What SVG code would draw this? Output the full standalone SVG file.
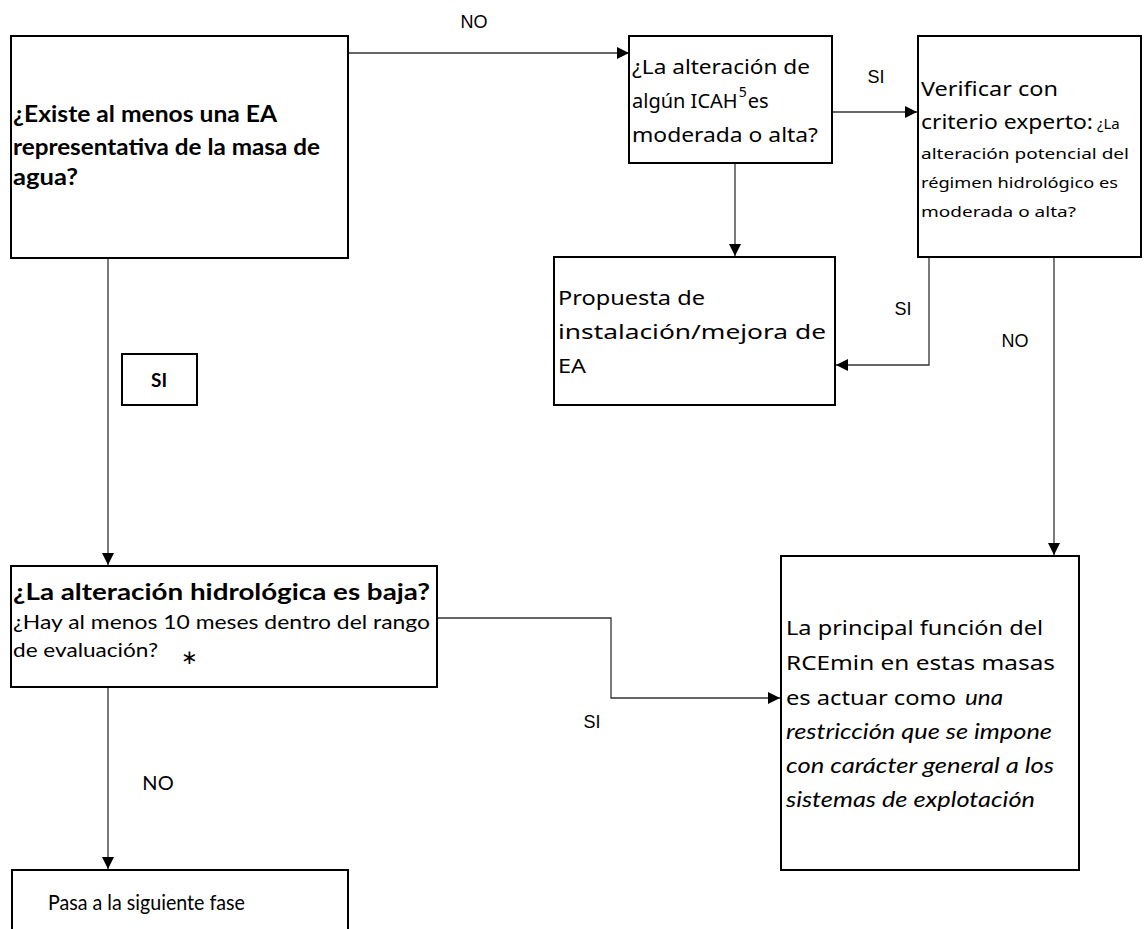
<svg xmlns="http://www.w3.org/2000/svg" width="1144" height="929" viewBox="0 0 1144 929">
<style>
.box{fill:#fff;stroke:#000;stroke-width:2}
.con{fill:none;stroke:#333;stroke-width:1.3}
.cb{font-family:Lato,"Liberation Sans",sans-serif;font-weight:bold;fill:#000}
.cr{font-family:Lato,"Liberation Sans",sans-serif;fill:#000}
.ap{font-family:"Noto Sans","Open Sans",sans-serif;fill:#000}
.lbl{font-family:"Liberation Sans",Arial,sans-serif;font-size:18px;fill:#000;text-anchor:middle}
</style>
<defs>
<marker id="arr" viewBox="0 0 10 10" refX="10" refY="5" markerWidth="12" markerHeight="12" markerUnits="userSpaceOnUse" orient="auto">
<path d="M0,0 L10,5 L0,10 z" fill="#000"/>
</marker>
</defs>
<rect width="1144" height="929" fill="#fff"/>
<g id="connectors">
<path class="con" d="M348,53 H629" marker-end="url(#arr)"/>
<path class="con" d="M735,163 V256" marker-end="url(#arr)"/>
<path class="con" d="M832,112 H917" marker-end="url(#arr)"/>
<path class="con" d="M929,257 V365 H836" marker-end="url(#arr)"/>
<path class="con" d="M1054,257 V555" marker-end="url(#arr)"/>
<path class="con" d="M108,258 V565" marker-end="url(#arr)"/>
<path class="con" d="M437,618 H611 V698 H780" marker-end="url(#arr)"/>
<path class="con" d="M108,687 V869" marker-end="url(#arr)"/>
<text class="lbl" x="474" y="28">NO</text>
<text class="lbl" x="876" y="83">SI</text>
<text class="lbl" x="903" y="315">SI</text>
<text class="lbl" x="1015" y="347">NO</text>
<text class="lbl" x="592" y="728">SI</text>
<text class="lbl" x="158" y="790" style="font-family:Lato,'Liberation Sans',sans-serif;font-size:20px">NO</text>
</g>
<g id="n1">
<rect class="box" x="11" y="36" width="337" height="222"/>
<text class="cb" font-size="22" x="13" y="122" textLength="264" lengthAdjust="spacingAndGlyphs">¿Existe al menos una EA</text>
<text class="cb" font-size="22" x="13" y="155" textLength="307" lengthAdjust="spacingAndGlyphs">representativa de la masa de</text>
<text class="cb" font-size="22" x="13" y="185" textLength="65" lengthAdjust="spacingAndGlyphs">agua?</text>
</g>
<g id="n2">
<rect class="box" x="629" y="36" width="203" height="127"/>
<text class="ap" font-size="20" x="632" y="74" textLength="178" lengthAdjust="spacingAndGlyphs">¿La alteración de</text>
<text class="ap" font-size="20" x="632" y="108">algún ICAH<tspan font-size="14" dx="1" dy="-11">5</tspan><tspan dx="1" dy="11">es</tspan></text>
<text class="ap" font-size="20" x="632" y="142" textLength="186" lengthAdjust="spacingAndGlyphs">moderada o alta?</text>
</g>
<g id="n3">
<rect class="box" x="918" y="36" width="223" height="221"/>
<text class="ap" font-size="20" x="921" y="96" textLength="137" lengthAdjust="spacingAndGlyphs">Verificar con</text>
<text class="ap" font-size="20" x="921" y="129" textLength="172" lengthAdjust="spacingAndGlyphs">criterio experto:</text>
<text class="ap" font-size="15" x="1097" y="129">¿La</text>
<text class="ap" font-size="15" x="921" y="159" textLength="208" lengthAdjust="spacingAndGlyphs">alteración potencial del</text>
<text class="ap" font-size="15" x="921" y="188" textLength="197" lengthAdjust="spacingAndGlyphs">régimen hidrológico es</text>
<text class="ap" font-size="15" x="921" y="217" textLength="155" lengthAdjust="spacingAndGlyphs">moderada o alta?</text>
</g>
<g id="n4">
<rect class="box" x="554" y="257" width="281" height="148"/>
<text class="ap" font-size="20" x="558" y="305" textLength="147" lengthAdjust="spacingAndGlyphs">Propuesta de</text>
<text class="ap" font-size="20" x="558" y="339" textLength="268" lengthAdjust="spacingAndGlyphs">instalación/mejora de</text>
<text class="ap" font-size="20" x="558" y="373" textLength="28" lengthAdjust="spacingAndGlyphs">EA</text>
</g>
<g id="n5">
<rect class="box" x="11" y="566" width="426" height="121"/>
<text class="cb" font-size="23" x="13" y="600" textLength="417" lengthAdjust="spacingAndGlyphs">¿La alteración hidrológica es baja?</text>
<text class="cr" font-size="20" x="13" y="629" textLength="417" lengthAdjust="spacingAndGlyphs">¿Hay al menos 10 meses dentro del rango</text>
<text class="cr" font-size="20" x="13" y="657" textLength="145" lengthAdjust="spacingAndGlyphs">de evaluación?</text>
<text class="cr" font-size="20" x="181" y="664">∗</text>
</g>
<g id="n6">
<rect class="box" x="781" y="556" width="298" height="314"/>
<text class="ap" font-size="20" x="786" y="635" textLength="257" lengthAdjust="spacingAndGlyphs">La principal función del</text>
<text class="ap" font-size="20" x="786" y="670" textLength="269" lengthAdjust="spacingAndGlyphs">RCEmin en estas masas</text>
<text class="ap" font-size="20" x="786" y="705" textLength="170" lengthAdjust="spacingAndGlyphs">es actuar como</text>
<text class="cr" font-size="21" font-style="italic" x="965" y="705" textLength="38" lengthAdjust="spacingAndGlyphs">una</text>
<text class="cr" font-size="21" font-style="italic" x="786" y="739" textLength="266" lengthAdjust="spacingAndGlyphs">restricción que se impone</text>
<text class="cr" font-size="21" font-style="italic" x="786" y="773" textLength="268" lengthAdjust="spacingAndGlyphs">con carácter general a los</text>
<text class="cr" font-size="21" font-style="italic" x="786" y="807" textLength="249" lengthAdjust="spacingAndGlyphs">sistemas de explotación</text>
</g>
<g id="n7">
<rect class="box" x="12" y="870" width="336" height="70"/>
<text class="cr" font-size="22" x="48" y="910" textLength="197" lengthAdjust="spacingAndGlyphs">Pasa a la siguiente fase</text>
</g>
<g id="n8">
<rect class="box" x="122" y="354" width="75" height="51"/>
<text class="cb" font-size="19" x="159" y="387" text-anchor="middle">SI</text>
</g>
</svg>
